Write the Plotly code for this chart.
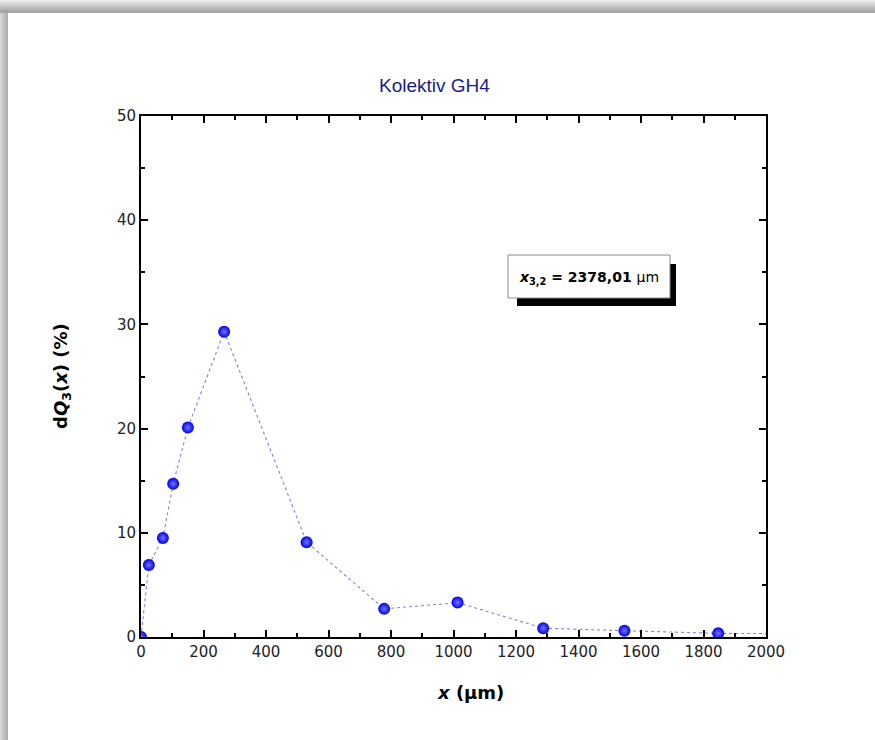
import plotly.graph_objects as go

# Data
x_um = [0, 25, 70, 103, 150, 266, 530, 778, 1013, 1287, 1547, 1847, 2150]
dq3 = [0.0, 6.9, 9.5, 14.7, 20.1, 29.3, 9.1, 2.7, 3.3, 0.85, 0.6, 0.35, 0.3]
x_ticks = [0, 200, 400, 600, 800, 1000, 1200, 1400, 1600, 1800, 2000]
y_ticks = [0, 10, 20, 30, 40, 50]
title_text = "Kolektiv GH4"
box_text = "<b><i>x</i><sub>3,2</sub> = 2378,01 </b>μm"

W, H = 875, 740
L, R, T, B = 141, 766, 116, 637  # plot area in pixels


def px(x):
    return (x - L) / (R - L)


def py(y):
    return (B - y) / (B - T)


fig = go.Figure()
fig.add_trace(go.Scatter(
    x=x_um, y=dq3, mode="lines+markers",
    line=dict(color="#8080ea", width=1.1, dash="dot"),
    marker=dict(size=12, color="#0000e8",
                gradient=dict(type="radial", color="#7474ff"),
                line=dict(width=0)),
    showlegend=False,
))

shapes = []
# top shadow band of the frame
top_cols = ["#ececec", "#e6e6e6", "#e0e0e0", "#dadada", "#d4d4d4", "#cdcdcd", "#c6c6c6",
            "#bfbfbf", "#b8b8b8", "#b1b1b1", "#aaaaaa", "#a6a6a6", "#a4a4a4"]
for i, c in enumerate(top_cols):
    shapes.append(dict(type="rect", xref="paper", yref="paper", layer="below",
                       x0=px(0), x1=px(W), y0=py(i), y1=py(i + 1),
                       fillcolor=c, line=dict(width=0)))
left_cols = ["#d6d6d6", "#d0d0d0", "#cacaca", "#c4c4c4", "#bebebe", "#b8b8b8", "#b2b2b2", "#b0b0b0"]
for i, c in enumerate(left_cols):
    shapes.append(dict(type="rect", xref="paper", yref="paper", layer="below",
                       x0=px(i), x1=px(i + 1), y0=py(13), y1=py(H),
                       fillcolor=c, line=dict(width=0)))
# info box shadow and box
shapes.append(dict(type="rect", xref="paper", yref="paper",
                   x0=px(517), x1=px(676), y0=py(306), y1=py(264),
                   fillcolor="black", line=dict(width=0)))
shapes.append(dict(type="rect", xref="paper", yref="paper",
                   x0=px(508), x1=px(670), y0=py(298), y1=py(255),
                   fillcolor="white", line=dict(color="#8a8a8a", width=1)))

ann_common = dict(xref="paper", yref="paper", showarrow=False,
                  xanchor="center", yanchor="middle")
annotations = [
    dict(text=title_text, x=px(434), y=py(86),
         font=dict(family="Liberation Sans", size=19, color="#1b1b8f"), **ann_common),
    dict(text=box_text, x=px(589), y=py(278),
         font=dict(family="DejaVu Sans", size=14, color="black"), **ann_common),
    dict(text="<b>d<i>Q</i><sub>3</sub>(<i>x</i>) (%)</b>",
         x=px(62), y=py(376), textangle=-90,
         font=dict(family="DejaVu Sans", size=18, color="black"), **ann_common),
    dict(text="<b><i>x</i> (μm)</b>", x=px(470), y=py(692),
         font=dict(family="DejaVu Sans", size=18, color="black"), **ann_common),
]

axis_common = dict(showline=True, linewidth=2, linecolor="black", mirror="ticks",
                   ticks="inside", ticklen=7, tickwidth=2, tickcolor="black",
                   showgrid=False, zeroline=False,
                   tickfont=dict(family="DejaVu Sans", size=15, color="#222222"))

fig.update_layout(
    width=W, height=H, autosize=False,
    margin=dict(l=L, r=W - R, t=T, b=H - B),
    paper_bgcolor="white", plot_bgcolor="rgba(0,0,0,0)",
    xaxis=dict(range=[0, 2000], tickvals=x_ticks, ticktext=[str(v) for v in x_ticks],
               minor=dict(ticks="inside", ticklen=4, tickwidth=2, dtick=100, tickcolor="black"),
               **axis_common),
    yaxis=dict(range=[0, 50], tickvals=y_ticks, ticktext=[str(v) for v in y_ticks],
               minor=dict(ticks="inside", ticklen=4, tickwidth=2, dtick=5, tickcolor="black"),
               **axis_common),
    shapes=shapes, annotations=annotations,
)

fig.write_html("out.html", config={"displayModeBar": False},
               post_script="document.body.style.margin='0';document.body.style.overflow='hidden';")
